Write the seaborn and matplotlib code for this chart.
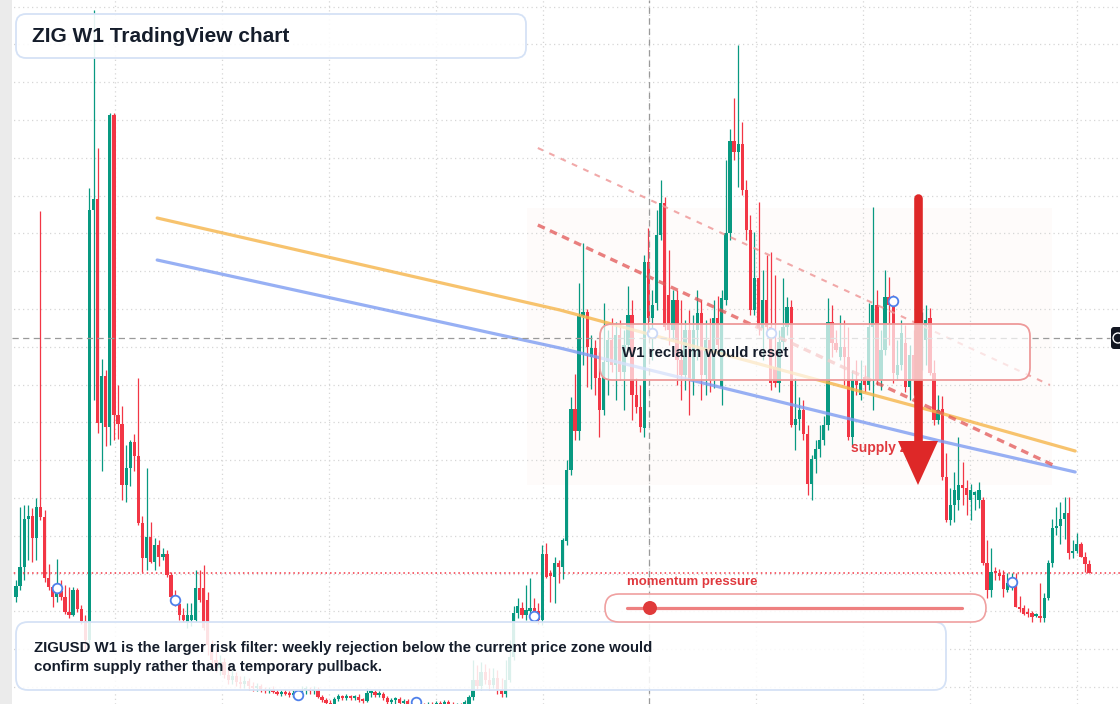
import numpy as np
import pandas as pd
import matplotlib
matplotlib.use("Agg")
import matplotlib.pyplot as plt
import seaborn as sns
from matplotlib.patches import FancyBboxPatch, Rectangle, Polygon, Circle

# ZIGUSD weekly candles
opens = [
    0.203, 0.214, 0.233, 0.281, 0.284, 0.262, 0.293, 0.283, 0.222, 0.213,
    0.203, 0.209, 0.203, 0.188, 0.185, 0.210, 0.191, 0.179, 0.160, 0.590,
    0.601, 0.377, 0.424, 0.373, 0.685, 0.385, 0.376, 0.315, 0.332, 0.358,
    0.344, 0.277, 0.242, 0.263, 0.238, 0.255, 0.243, 0.246, 0.225, 0.203,
    0.196, 0.185, 0.178, 0.180, 0.180, 0.212, 0.212, 0.200, 0.155, 0.140,
    0.132, 0.138, 0.125, 0.120, 0.124, 0.118, 0.116, 0.119, 0.114, 0.112,
    0.114, 0.110, 0.109, 0.111, 0.108, 0.106, 0.108, 0.106, 0.105, 0.107,
    0.104, 0.110, 0.111, 0.109, 0.111, 0.103, 0.100, 0.097, 0.095, 0.101,
    0.104, 0.102, 0.103, 0.102, 0.103, 0.100, 0.099, 0.107, 0.108, 0.105,
    0.106, 0.102, 0.098, 0.100, 0.101, 0.097, 0.099, 0.096, 0.094, 0.097,
    0.094, 0.092, 0.096, 0.093, 0.097, 0.094, 0.098, 0.095, 0.092, 0.095,
    0.093, 0.094, 0.103, 0.120, 0.114, 0.128, 0.120, 0.115, 0.122, 0.110,
    0.106, 0.120, 0.143, 0.187, 0.192, 0.185, 0.189, 0.192, 0.189, 0.180,
    0.246, 0.227, 0.223, 0.237, 0.233, 0.259, 0.330, 0.391, 0.369, 0.484,
    0.488, 0.443, 0.452, 0.422, 0.390, 0.438, 0.460, 0.435, 0.465, 0.428,
    0.455, 0.485, 0.405, 0.393, 0.372, 0.538, 0.482, 0.497, 0.565, 0.597,
    0.505, 0.470, 0.500, 0.440, 0.425, 0.470, 0.420, 0.470, 0.487, 0.425,
    0.460, 0.420, 0.482, 0.413, 0.500, 0.567, 0.659, 0.648, 0.656, 0.610,
    0.570, 0.490, 0.522, 0.472, 0.500, 0.473, 0.433, 0.417, 0.458, 0.473,
    0.493, 0.375, 0.381, 0.390, 0.366, 0.316, 0.341, 0.351, 0.360, 0.375,
    0.478, 0.457, 0.443, 0.453, 0.443, 0.363, 0.420, 0.405, 0.423, 0.415,
    0.473, 0.495, 0.420, 0.450, 0.503, 0.495, 0.425, 0.435, 0.457, 0.413,
    0.445, 0.420, 0.470, 0.460, 0.482, 0.427, 0.380, 0.391, 0.323, 0.280,
    0.295, 0.300, 0.315, 0.312, 0.300, 0.305, 0.300, 0.300, 0.237, 0.210,
    0.229, 0.227, 0.225, 0.210, 0.215, 0.215, 0.193, 0.192, 0.187, 0.187,
    0.184, 0.184, 0.182, 0.202, 0.237, 0.272, 0.274, 0.281, 0.287, 0.247,
    0.249, 0.256, 0.243, 0.236,
]
highs = [
    0.220, 0.293, 0.295, 0.295, 0.292, 0.302, 0.589, 0.290, 0.236, 0.215,
    0.241, 0.220, 0.215, 0.213, 0.213, 0.212, 0.195, 0.185, 0.612, 0.790,
    0.652, 0.441, 0.430, 0.687, 0.687, 0.415, 0.394, 0.355, 0.360, 0.366,
    0.422, 0.284, 0.332, 0.278, 0.262, 0.260, 0.252, 0.250, 0.228, 0.210,
    0.200, 0.192, 0.197, 0.197, 0.230, 0.230, 0.235, 0.208, 0.160, 0.150,
    0.145, 0.142, 0.132, 0.130, 0.128, 0.124, 0.124, 0.122, 0.118, 0.117,
    0.116, 0.113, 0.113, 0.114, 0.111, 0.110, 0.111, 0.109, 0.110, 0.110,
    0.114, 0.114, 0.113, 0.114, 0.113, 0.105, 0.102, 0.100, 0.103, 0.106,
    0.105, 0.106, 0.105, 0.105, 0.106, 0.102, 0.112, 0.110, 0.110, 0.109,
    0.108, 0.104, 0.102, 0.103, 0.103, 0.101, 0.101, 0.098, 0.100, 0.099,
    0.097, 0.098, 0.098, 0.099, 0.099, 0.100, 0.100, 0.098, 0.097, 0.097,
    0.100, 0.105, 0.140, 0.135, 0.138, 0.136, 0.132, 0.132, 0.130, 0.122,
    0.140, 0.160, 0.194, 0.202, 0.198, 0.215, 0.222, 0.202, 0.197, 0.255,
    0.257, 0.230, 0.243, 0.240, 0.262, 0.340, 0.403, 0.426, 0.517, 0.557,
    0.491, 0.465, 0.460, 0.448, 0.497, 0.470, 0.482, 0.478, 0.480, 0.470,
    0.514, 0.500, 0.422, 0.415, 0.545, 0.572, 0.510, 0.590, 0.620, 0.603,
    0.550, 0.510, 0.510, 0.500, 0.480, 0.490, 0.485, 0.510, 0.500, 0.480,
    0.482, 0.500, 0.504, 0.510, 0.640, 0.671, 0.702, 0.755, 0.678, 0.620,
    0.585, 0.568, 0.598, 0.530, 0.545, 0.548, 0.525, 0.470, 0.522, 0.503,
    0.500, 0.422, 0.403, 0.400, 0.375, 0.345, 0.360, 0.375, 0.384, 0.502,
    0.495, 0.470, 0.485, 0.480, 0.473, 0.430, 0.440, 0.440, 0.435, 0.497,
    0.593, 0.510, 0.470, 0.530, 0.523, 0.505, 0.460, 0.480, 0.475, 0.455,
    0.470, 0.480, 0.488, 0.495, 0.492, 0.440, 0.405, 0.404, 0.347, 0.312,
    0.328, 0.363, 0.338, 0.320, 0.316, 0.309, 0.318, 0.303, 0.260, 0.252,
    0.233, 0.231, 0.230, 0.227, 0.227, 0.227, 0.204, 0.195, 0.192, 0.189,
    0.187, 0.217, 0.207, 0.240, 0.281, 0.293, 0.298, 0.303, 0.303, 0.260,
    0.267, 0.258, 0.248, 0.240,
]
lows = [
    0.198, 0.210, 0.220, 0.240, 0.238, 0.240, 0.280, 0.218, 0.210, 0.193,
    0.198, 0.200, 0.186, 0.182, 0.184, 0.188, 0.176, 0.150, 0.152, 0.400,
    0.367, 0.329, 0.354, 0.355, 0.360, 0.361, 0.300, 0.298, 0.314, 0.329,
    0.275, 0.228, 0.230, 0.237, 0.230, 0.234, 0.240, 0.223, 0.197, 0.194,
    0.180, 0.178, 0.172, 0.174, 0.178, 0.198, 0.170, 0.145, 0.132, 0.128,
    0.125, 0.122, 0.116, 0.116, 0.114, 0.112, 0.112, 0.110, 0.109, 0.109,
    0.108, 0.107, 0.107, 0.107, 0.105, 0.104, 0.105, 0.103, 0.103, 0.102,
    0.102, 0.106, 0.106, 0.106, 0.102, 0.098, 0.096, 0.094, 0.094, 0.099,
    0.100, 0.100, 0.100, 0.100, 0.098, 0.097, 0.098, 0.103, 0.103, 0.103,
    0.100, 0.096, 0.094, 0.095, 0.095, 0.093, 0.094, 0.092, 0.092, 0.092,
    0.090, 0.090, 0.091, 0.091, 0.092, 0.092, 0.092, 0.090, 0.089, 0.090,
    0.090, 0.092, 0.100, 0.110, 0.110, 0.116, 0.110, 0.112, 0.106, 0.103,
    0.103, 0.118, 0.140, 0.182, 0.182, 0.180, 0.186, 0.186, 0.176, 0.175,
    0.222, 0.198, 0.197, 0.217, 0.221, 0.255, 0.325, 0.360, 0.360, 0.435,
    0.413, 0.411, 0.405, 0.363, 0.385, 0.405, 0.428, 0.400, 0.420, 0.390,
    0.450, 0.380, 0.387, 0.368, 0.363, 0.470, 0.440, 0.490, 0.560, 0.470,
    0.455, 0.460, 0.415, 0.400, 0.410, 0.385, 0.405, 0.440, 0.400, 0.405,
    0.408, 0.412, 0.445, 0.395, 0.495, 0.560, 0.640, 0.613, 0.605, 0.560,
    0.485, 0.485, 0.465, 0.440, 0.465, 0.410, 0.413, 0.408, 0.450, 0.465,
    0.373, 0.350, 0.370, 0.360, 0.305, 0.300, 0.327, 0.343, 0.355, 0.370,
    0.443, 0.448, 0.440, 0.415, 0.360, 0.355, 0.405, 0.400, 0.408, 0.410,
    0.390, 0.415, 0.410, 0.445, 0.455, 0.417, 0.420, 0.430, 0.408, 0.400,
    0.405, 0.415, 0.430, 0.435, 0.425, 0.375, 0.376, 0.320, 0.278, 0.275,
    0.278, 0.290, 0.295, 0.285, 0.280, 0.290, 0.292, 0.235, 0.202, 0.203,
    0.220, 0.220, 0.203, 0.208, 0.210, 0.193, 0.188, 0.185, 0.183, 0.178,
    0.183, 0.178, 0.178, 0.200, 0.233, 0.265, 0.256, 0.261, 0.241, 0.242,
    0.247, 0.243, 0.228, 0.227,
]
closes = [
    0.214, 0.233, 0.281, 0.284, 0.262, 0.293, 0.283, 0.222, 0.213, 0.203,
    0.209, 0.203, 0.188, 0.185, 0.210, 0.191, 0.179, 0.160, 0.590, 0.601,
    0.377, 0.424, 0.373, 0.685, 0.385, 0.376, 0.315, 0.332, 0.358, 0.344,
    0.277, 0.242, 0.263, 0.238, 0.255, 0.243, 0.246, 0.225, 0.203, 0.196,
    0.185, 0.180, 0.185, 0.185, 0.212, 0.200, 0.172, 0.155, 0.140, 0.132,
    0.138, 0.125, 0.120, 0.124, 0.118, 0.116, 0.119, 0.114, 0.112, 0.114,
    0.110, 0.109, 0.111, 0.108, 0.106, 0.108, 0.106, 0.105, 0.107, 0.104,
    0.110, 0.111, 0.109, 0.111, 0.103, 0.100, 0.097, 0.095, 0.101, 0.104,
    0.102, 0.103, 0.102, 0.103, 0.100, 0.099, 0.107, 0.108, 0.105, 0.106,
    0.102, 0.098, 0.100, 0.101, 0.097, 0.099, 0.096, 0.094, 0.097, 0.094,
    0.092, 0.096, 0.093, 0.097, 0.094, 0.098, 0.095, 0.092, 0.095, 0.093,
    0.098, 0.103, 0.120, 0.114, 0.128, 0.120, 0.115, 0.122, 0.110, 0.106,
    0.120, 0.143, 0.187, 0.194, 0.185, 0.190, 0.192, 0.189, 0.180, 0.246,
    0.223, 0.224, 0.237, 0.233, 0.260, 0.330, 0.391, 0.369, 0.484, 0.488,
    0.453, 0.452, 0.422, 0.390, 0.438, 0.460, 0.435, 0.465, 0.428, 0.455,
    0.485, 0.405, 0.393, 0.373, 0.538, 0.482, 0.495, 0.565, 0.597, 0.473,
    0.470, 0.500, 0.440, 0.425, 0.470, 0.420, 0.470, 0.487, 0.425, 0.460,
    0.420, 0.482, 0.455, 0.502, 0.567, 0.659, 0.648, 0.656, 0.610, 0.570,
    0.490, 0.522, 0.472, 0.500, 0.473, 0.417, 0.417, 0.458, 0.473, 0.493,
    0.375, 0.381, 0.390, 0.366, 0.316, 0.341, 0.351, 0.360, 0.375, 0.478,
    0.457, 0.450, 0.453, 0.443, 0.363, 0.420, 0.415, 0.417, 0.415, 0.473,
    0.495, 0.420, 0.450, 0.503, 0.495, 0.427, 0.435, 0.467, 0.413, 0.445,
    0.420, 0.470, 0.480, 0.480, 0.427, 0.380, 0.390, 0.323, 0.280, 0.295,
    0.310, 0.315, 0.312, 0.305, 0.310, 0.308, 0.310, 0.237, 0.210, 0.228,
    0.227, 0.224, 0.211, 0.217, 0.218, 0.193, 0.191, 0.186, 0.186, 0.183,
    0.185, 0.182, 0.202, 0.237, 0.272, 0.274, 0.281, 0.287, 0.247, 0.249,
    0.256, 0.243, 0.236, 0.227,
]

# moving averages (candle index, price)
ma_idx = [34.6, 133.3, 226.5, 259.6]
ma_slow = [0.582, 0.490, 0.387, 0.349]
ma_fast = [0.540, 0.452, 0.359, 0.328]

# descending resistance lines
trend_idx = [127.9, 254.7]
trend_main = [0.575, 0.334]
trend_upper_idx = [127.9, 253.4]
trend_upper = [0.652, 0.415]

# pivot markers
pivot_idx = [10, 39, 69, 98, 127, 156, 185, 215, 244]
pivot_price = [0.212, 0.200, 0.105, 0.098, 0.184, 0.467, 0.467, 0.499, 0.218]

# supply zone and crosshair
zone_start, zone_end = 125.2, 253.9
zone_low, zone_high = 0.315, 0.592
cross_idx, cross_price = 155.1, 0.462

W, H = 1120, 704
STEP = 4.08  # px per weekly candle

sns.set_theme(style="white")
plt.rcParams["font.family"] = ["Liberation Sans", "DejaVu Sans"]

fig = plt.figure(figsize=(W / 100, H / 100), dpi=100, facecolor="white")
ax = fig.add_axes([0, 0, 1, 1])
ax.set_xlim(-16 / STEP, (W - 16) / STEP)
ax.set_ylim(0.096, 0.800)
ax.set_axis_off()

# dotted grid
for k in range(19):
    ax.axhline(0.113 + 0.0378 * k, color="#d6d6d6", lw=0.9, ls=(0, (1, 2.6)), zorder=1)
for k in range(-1, 10):
    ax.axvline(24.26 + 26.2 * k, color="#d6d6d6", lw=0.9, ls=(0, (1, 2.6)), zorder=1)

# supply zone (very faint)
ax.add_patch(Rectangle((zone_start, zone_low), zone_end - zone_start, zone_high - zone_low,
                       fc="#fbeee6", alpha=0.18, lw=0, zorder=0.5))

# candles
df = pd.DataFrame({"open": opens, "high": highs, "low": lows, "close": closes})
df["idx"] = np.arange(len(df))
colors = np.where(df["close"] >= df["open"], "#089981", "#f23645")
ax.vlines(df["idx"], df["low"], df["high"], colors=colors, lw=0.9, zorder=2)
body = (df["close"] - df["open"]).abs().clip(lower=0.0018)
ax.bar(df["idx"], body, bottom=df[["open", "close"]].min(axis=1), width=0.8,
       color=colors, lw=0, zorder=3)

# current price line
ax.axhline(closes[-1], color="#f23645", lw=1.1, ls=(0, (1, 2)), zorder=2.5)

# moving averages
sns.lineplot(x=ma_idx, y=ma_slow, ax=ax, color="#f6b54a", lw=2.3, alpha=0.8, zorder=4)
sns.lineplot(x=ma_idx, y=ma_fast, ax=ax, color="#7d9cf2", lw=2.3, alpha=0.8, zorder=4)

# trendlines
ax.plot(trend_idx, trend_main, color="#e25555", alpha=0.75, lw=2.4, ls=(0, (2.3, 1.7)), zorder=4)
ax.plot(trend_upper_idx, trend_upper, color="#ef9a9a", alpha=0.85, lw=1.5, ls=(0, (2.8, 3.2)), zorder=4)

# pivots
sns.scatterplot(x=pivot_idx, y=pivot_price, ax=ax, s=48, color="white",
                edgecolor="#4f80ea", linewidth=1.3, zorder=5)

# crosshair
ax.axvline(cross_idx, color="#9a9a9a", lw=0.9, ls=(0, (5, 3.5)), zorder=6)
ax.plot([-1, 268.1], [cross_price, cross_price], color="#9a9a9a", lw=0.9, ls=(0, (5, 3.5)), zorder=6)

tr = fig.dpi_scale_trans


def px_box(x0, y0, x1, y1, fc, ec, lw, r, z):
    ax.add_patch(FancyBboxPatch((x0 / 100, (H - y1) / 100), (x1 - x0) / 100, (y1 - y0) / 100,
                                boxstyle=f"round,pad=0,rounding_size={r / 100}", transform=tr,
                                fc=fc, ec=ec, lw=lw, zorder=z, clip_on=False))


def px_text(x, y, s, **kw):
    ax.text(x / 100, (H - y) / 100, s, transform=tr, va="center", ha="left",
            clip_on=False, **kw)


# supply label + arrow
px_text(851, 448, "supply zone", fontsize=10, fontweight="bold", color="#e0393e", zorder=5.5)
ax.plot([9.18, 9.18], [(H - 198) / 100, (H - 445) / 100], transform=tr, color="#de2828",
        lw=6.2, solid_capstyle="round", zorder=6, clip_on=False)
ax.add_patch(Polygon([(8.98, (H - 441) / 100), (9.38, (H - 441) / 100), (9.18, (H - 485) / 100)],
                     closed=True, transform=tr, fc="#de2828", ec="none", zorder=6))

# boxes
px_box(16, 14, 526, 58, (1, 1, 1, 0.9), "#d5e2f6", 1.3, 10, 7)
px_box(16, 622, 946, 690, (1, 1, 1, 0.86), "#d5e2f6", 1.3, 12, 7)
px_box(600, 324, 1030, 380, (1, 1, 1, 0.7), "#ee9a9a", 1.3, 12, 7)
px_box(605, 594, 986, 622, (1, 1, 1, 0.9), "#f0a0a0", 1.2, 14, 7)

# momentum gauge
ax.plot([6.27, 9.62], [(H - 608) / 100] * 2, transform=tr, color="#ee8080", lw=2.3, zorder=7.5)
ax.add_patch(Circle((6.50, (H - 608) / 100), 0.07, transform=tr, fc="#e03a3a", ec="none", zorder=7.6))

# right-edge badge
px_box(1111, 327, 1126, 349, "#131722", "none", 0, 3, 8)
ax.add_patch(Circle((11.18, (H - 338) / 100), 0.05, transform=tr, fill=False, ec="white", lw=1, zorder=8.1))

# left rail
ax.add_patch(Rectangle((0, 0), 0.12, H / 100, transform=tr, fc="#ebebeb", ec="none", zorder=9))

# texts
dark = "#151d2b"
px_text(32, 36, "ZIG W1 TradingView chart", fontsize=15, fontweight="bold", color=dark, zorder=10)
px_text(622, 353, "W1 reclaim would reset", fontsize=10.8, fontweight="bold", color=dark, zorder=10)
px_text(627, 582, "momentum pressure", fontsize=9.5, fontweight="bold", color="#e0393e", zorder=10)
px_text(34, 648, "ZIGUSD W1 is the larger risk filter: weekly rejection below the current price zone would",
        fontsize=10.8, fontweight="bold", color=dark, zorder=10)
px_text(34, 667, "confirm supply rather than a temporary pullback.",
        fontsize=10.8, fontweight="bold", color=dark, zorder=10)

fig.savefig("out.png", dpi=100, facecolor="white")
